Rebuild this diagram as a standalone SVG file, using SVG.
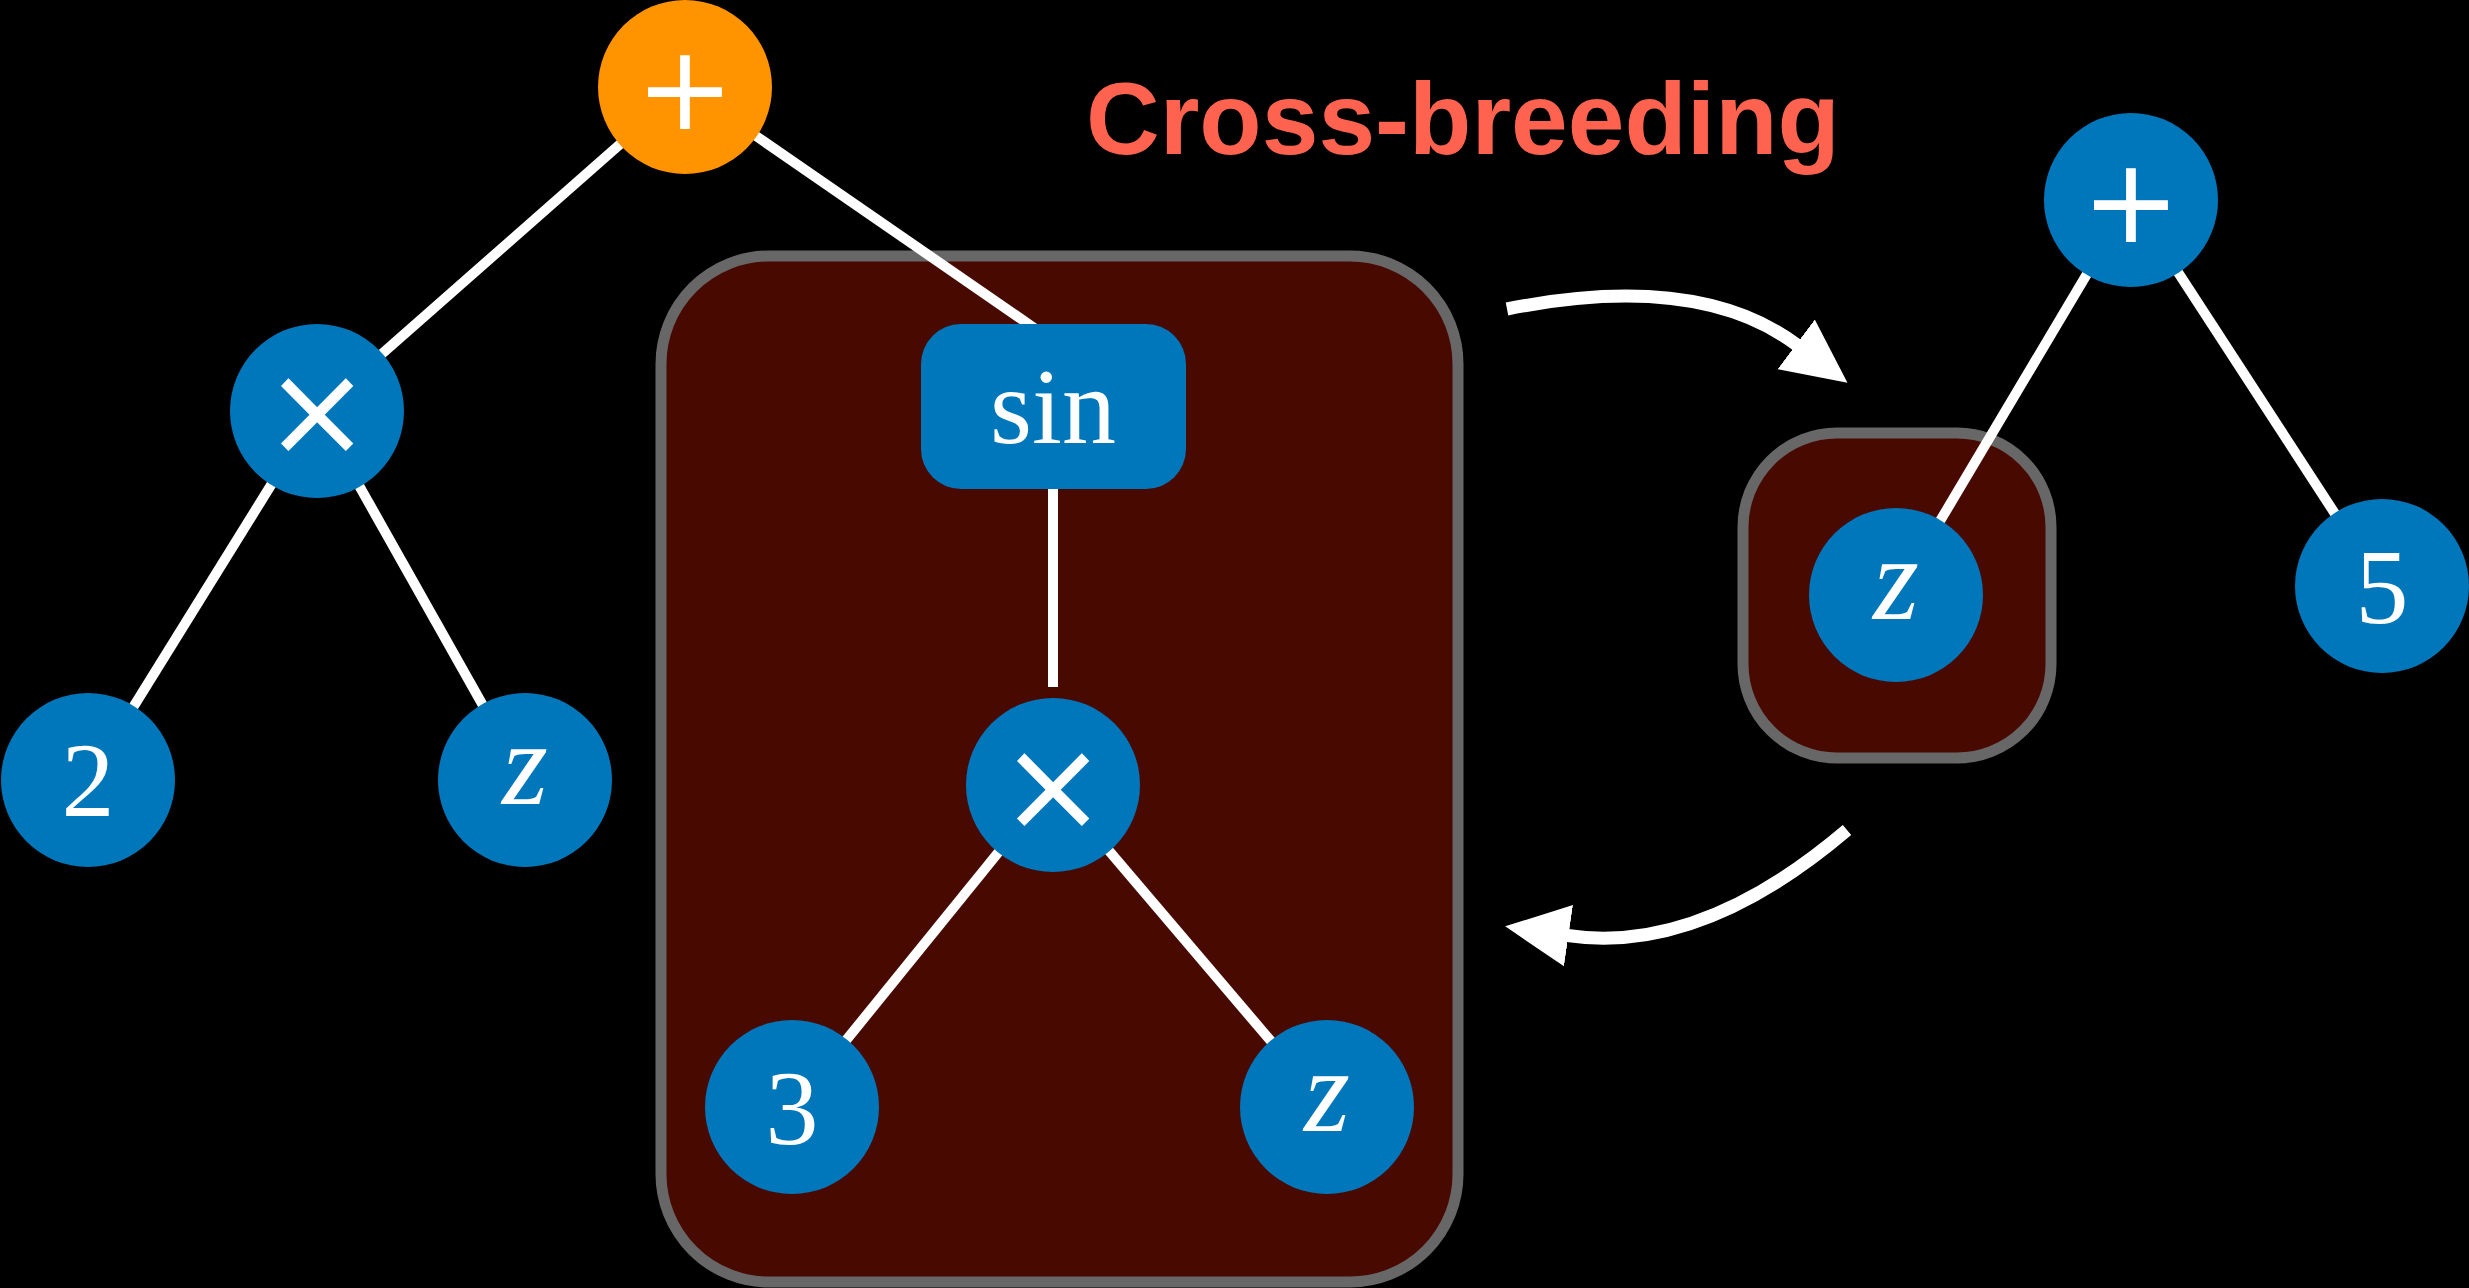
<svg xmlns="http://www.w3.org/2000/svg" width="2469" height="1288" viewBox="0 0 2469 1288">
  <style>
    .bg { fill: #000000; }
    .subtree { fill: #480900; stroke: #676767; stroke-width: 11; }
    .edge { stroke: #ffffff; stroke-width: 10; fill: none; }
    .node { fill: #0077BB; }
    .root { fill: #FF9300; }
    .op { fill: #ffffff; font-family: "DejaVu Sans", sans-serif; text-anchor: middle; }
    .num { fill: #ffffff; font-family: "Liberation Serif", "Times New Roman", serif; font-size: 106px; text-anchor: middle; }
    .var { fill: #ffffff; font-family: "Liberation Serif", "Times New Roman", serif; font-style: italic; font-size: 118px; text-anchor: middle; }
    .fn { fill: #ffffff; font-family: "Liberation Serif", "Times New Roman", serif; font-size: 108px; text-anchor: middle; }
    .title { fill: #FF634F; font-family: "Liberation Sans", Arial, sans-serif; font-weight: bold; font-size: 102px; }
    .swap { stroke: #ffffff; stroke-width: 13; fill: none; marker-end: url(#head); }
  </style>
  <defs>
    <marker id="head" markerUnits="userSpaceOnUse" markerWidth="66" markerHeight="64" viewBox="0 0 66 64" refX="1" refY="32" orient="auto">
      <path d="M0,1 L64,32 L0,63 Z" fill="#ffffff"/>
    </marker>
  </defs>

  <rect class="bg" x="0" y="0" width="2469" height="1288"/>

  <!-- highlighted subtrees being exchanged -->
  <g id="subtree-left">
    <rect class="subtree" x="661" y="256" width="797" height="1026" rx="108" ry="108"/>
  </g>
  <g id="subtree-right">
    <rect class="subtree" x="1743" y="433" width="308" height="325" rx="94" ry="94"/>
  </g>

  <!-- tree edges -->
  <g id="connectors">
    <line class="edge" x1="685" y1="87" x2="317" y2="411"/>
    <line class="edge" x1="685" y1="87" x2="1040" y2="332"/>
    <line class="edge" x1="317" y1="411" x2="88" y2="780"/>
    <line class="edge" x1="317" y1="411" x2="525" y2="780"/>
    <line class="edge" x1="1053" y1="480" x2="1053" y2="687"/>
    <line class="edge" x1="1053" y1="785" x2="792" y2="1107"/>
    <line class="edge" x1="1053" y1="785" x2="1327" y2="1107"/>
    <line class="edge" x1="2131" y1="200" x2="1896" y2="595"/>
    <line class="edge" x1="2131" y1="200" x2="2382" y2="586"/>
  </g>

  <!-- left tree: 2*z + sin(3*z) -->
  <g id="node-plus-root">
    <circle class="root" cx="685" cy="87" r="87"/>
    <text class="op" x="685" y="129" font-size="118">+</text>
  </g>
  <g id="node-times-left">
    <circle class="node" cx="317" cy="411" r="87"/>
    <text class="op" x="317" y="455" font-size="128">×</text>
  </g>
  <g id="node-2">
    <circle class="node" cx="88" cy="780" r="87"/>
    <text class="num" x="88" y="816">2</text>
  </g>
  <g id="node-z-left">
    <circle class="node" cx="525" cy="780" r="87"/>
    <text class="var" x="525" y="804">z</text>
  </g>
  <g id="node-sin">
    <rect class="node" x="921" y="324" width="265" height="165" rx="40" ry="40"/>
    <text class="fn" x="1053" y="443">sin</text>
  </g>
  <g id="node-times-mid">
    <circle class="node" cx="1053" cy="785" r="87"/>
    <text class="op" x="1053" y="830" font-size="128">×</text>
  </g>
  <g id="node-3">
    <circle class="node" cx="792" cy="1107" r="87"/>
    <text class="num" x="792" y="1144">3</text>
  </g>
  <g id="node-z-mid">
    <circle class="node" cx="1327" cy="1107" r="87"/>
    <text class="var" x="1327" y="1131">z</text>
  </g>

  <!-- right tree: z + 5 -->
  <g id="node-plus-right">
    <circle class="node" cx="2131" cy="200" r="87"/>
    <text class="op" x="2131" y="242" font-size="118">+</text>
  </g>
  <g id="node-z-right">
    <circle class="node" cx="1896" cy="595" r="87"/>
    <text class="var" x="1896" y="619">z</text>
  </g>
  <g id="node-5">
    <circle class="node" cx="2382" cy="586" r="87"/>
    <text class="num" x="2382" y="623">5</text>
  </g>

  <g id="title">
    <text class="title" x="1086" y="154">Cross-breeding</text>
  </g>

  <!-- exchange arrows -->
  <g id="swap-arrows">
    <path class="swap" d="M1507,309 Q1698,271 1797,345"/>
    <path class="swap" d="M1847,830 Q1700,955 1567.5,935.5"/>
  </g>
</svg>
